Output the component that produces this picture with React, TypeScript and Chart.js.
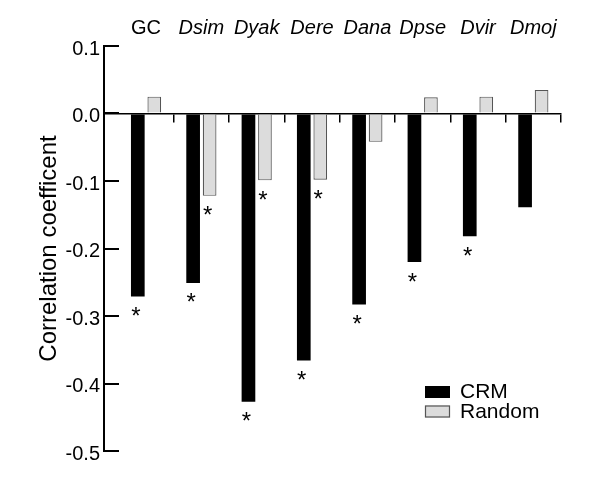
import React, { useEffect, useRef } from 'react';
import { Chart, registerables } from 'chart.js';

Chart.register(...registerables);

// ---- data ----
const categories = ['GC', 'Dsim', 'Dyak', 'Dere', 'Dana', 'Dpse', 'Dvir', 'Dmoj'];
const seriesNames = ['CRM', 'Random'];
const crmValues = [-0.271, -0.251, -0.427, -0.366, -0.283, -0.22, -0.182, -0.139];
const randomValues = [0.025, -0.122, -0.099, -0.098, -0.042, 0.024, 0.025, 0.035];
const crmSignificant = [true, true, true, true, true, true, true, false];
const randomSignificant = [false, true, true, true, false, false, false, false];
const yTickValues = [0.1, 0.0, -0.1, -0.2, -0.3, -0.4, -0.5];
const yTitle = 'Correlation coefficent';

const FONT = "'Liberation Sans', Arial, Helvetica, sans-serif";
const LEFT_EXTRA = 0.26; // empty space before first group (in category units)

function shiftCategories(scale: any) {
  scale._startValue = -0.5 - LEFT_EXTRA;
  scale._valueRange = scale.ticks.length + LEFT_EXTRA;
}

const starPlugin = {
  id: 'significanceStars',
  afterDatasetsDraw(chart: any) {
    const ctx = chart.ctx;
    ctx.save();
    ctx.font = `24px ${FONT}`;
    ctx.fillStyle = '#000';
    ctx.textAlign = 'center';
    ctx.textBaseline = 'alphabetic';
    const m = ctx.measureText('*');
    const half = (m.actualBoundingBoxAscent - m.actualBoundingBoxDescent) / 2;
    [crmSignificant, randomSignificant].forEach((flags, d) => {
      const meta = chart.getDatasetMeta(d);
      flags.forEach((flag, i) => {
        if (!flag) return;
        const el = meta.data[i];
        ctx.fillText('*', el.x - 2, el.y + 15 + half);
      });
    });
    ctx.restore();
  },
};

const legendPlugin = {
  id: 'customLegend',
  afterDraw(chart: any) {
    const ctx = chart.ctx;
    const x0 = 425;
    const rows = [386, 405.5];
    ctx.save();
    ctx.font = `21px ${FONT}`;
    ctx.textAlign = 'left';
    ctx.textBaseline = 'middle';
    chart.data.datasets.forEach((ds: any, i: number) => {
      const y = rows[i];
      ctx.fillStyle = ds.backgroundColor;
      ctx.fillRect(x0, y, 25, 12);
      if (ds.borderWidth) {
        ctx.strokeStyle = ds.borderColor;
        ctx.lineWidth = 1.2;
        ctx.strokeRect(x0 + 0.5, y + 0.5, 24, 11);
      }
      ctx.fillStyle = '#000';
      ctx.fillText(ds.label, 460, y + 6.5);
    });
    ctx.restore();
  },
};

export default function App() {
  const canvasRef = useRef<HTMLCanvasElement | null>(null);

  useEffect(() => {
    if (!canvasRef.current) return;
    const chart = new Chart(canvasRef.current, {
      type: 'bar',
      data: {
        labels: categories,
        datasets: [
          {
            label: seriesNames[0],
            data: crmValues,
            backgroundColor: '#000000',
            borderColor: '#000000',
            borderWidth: 0,
            xAxisID: 'x',
            yAxisID: 'y',
          },
          {
            label: seriesNames[1],
            data: randomValues,
            backgroundColor: '#dcdcdc',
            borderColor: '#555555',
            borderWidth: 1.2,
            xAxisID: 'x',
            yAxisID: 'y',
          },
        ],
      },
      options: {
        responsive: false,
        animation: false,
        layout: { padding: { left: 0, right: 39, top: 0, bottom: 34 } },
        datasets: { bar: { categoryPercentage: 0.596, barPercentage: 0.83 } } as any,
        plugins: {
          legend: { display: false },
          tooltip: { enabled: false },
        },
        scales: {
          x: {
            type: 'category',
            position: { y: 0 } as any,
            offset: true,
            grid: {
              offset: true,
              drawOnChartArea: false,
              drawTicks: true,
              tickLength: 8,
              lineWidth: 1.5,
              color: (c: any) => (c.index === 0 ? 'rgba(0,0,0,0)' : '#000'),
            },
            border: { display: true, color: '#000', width: 1.5 },
            ticks: { display: false },
            afterBuildTicks: shiftCategories,
          } as any,
          x2: {
            type: 'category',
            position: 'top',
            labels: categories,
            offset: true,
            grid: { display: false, drawTicks: false },
            border: { display: false },
            ticks: {
              padding: 6,
              color: '#000',
              autoSkip: false,
              maxRotation: 0,
              font: (c: any) => ({ family: FONT, size: 20, style: c.index === 0 ? 'normal' : 'italic' }),
            },
            afterBuildTicks: shiftCategories,
            afterFit: (s: any) => {
              s.height = 46;
            },
          } as any,
          y: {
            type: 'linear',
            position: 'left',
            min: -0.5,
            max: 0.1,
            afterBuildTicks: (s: any) => {
              s.ticks = yTickValues.map((v) => ({ value: v }));
            },
            afterFit: (s: any) => {
              s.width = 104;
            },
            grid: {
              drawOnChartArea: false,
              drawTicks: true,
              tickLength: -15,
              lineWidth: 2,
              color: '#000',
            },
            border: { display: true, color: '#000', width: 2 },
            ticks: {
              padding: 19,
              color: '#000',
              labelOffset: 3,
              font: { family: FONT, size: 20 },
              callback: (v: any) => Number(v).toFixed(1),
            },
            title: {
              display: true,
              text: yTitle,
              color: '#000',
              font: { family: FONT, size: 24 },
              padding: { top: 35, bottom: 0 },
            },
          } as any,
        },
      },
      plugins: [starPlugin, legendPlugin],
    });
    return () => chart.destroy();
  }, []);

  return (
    <div style={{ position: 'absolute', left: 0, top: 0, width: 600, height: 485, background: '#fff' }}>
      <canvas ref={canvasRef} width={600} height={485} />
    </div>
  );
}
